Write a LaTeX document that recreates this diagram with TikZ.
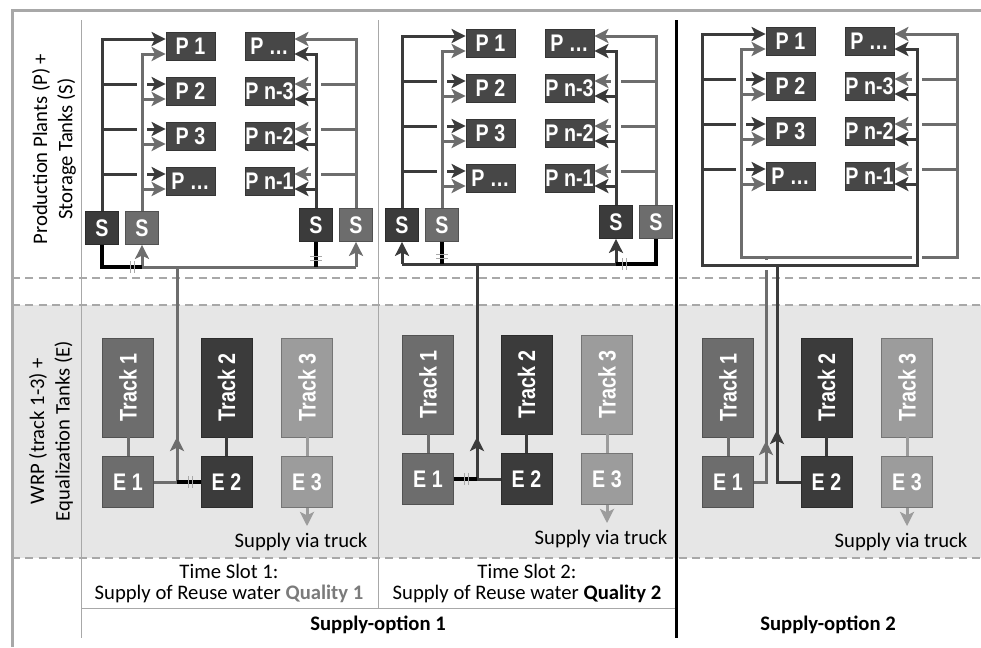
\documentclass[tikz,border=0pt]{standalone}
\usepackage{fontspec}
\setmainfont{Carlito}
\newfontfamily\boxfont[FakeStretch=0.82]{Liberation Sans}
\usetikzlibrary{arrows.meta,positioning}
\definecolor{qdark}{HTML}{3B3B3B}
\definecolor{qmid}{HTML}{6D6D6D}
\definecolor{qlight}{HTML}{9C9C9C}
\definecolor{plantgray}{HTML}{474747}
\definecolor{shadegray}{HTML}{E6E6E6}
\definecolor{rulegray}{HTML}{A8A8A8}
\definecolor{qtext}{HTML}{7B7B7B}
\tikzset{
  every picture/.style={
    x=0.75pt, y=-0.75pt,            % one unit = one pixel of the sketch
    line join=miter,
    >={Stealth[length=10.5pt,width=10.5pt,inset=2.5pt]},
  },
  tank/.style={draw=#1!75!black, fill=#1, line width=0.6pt, text=white, inner sep=0pt,
    font=\boxfont\bfseries\fontsize{18}{20}\selectfont},
  plantbox/.style={tank=plantgray, minimum width=36.75pt, minimum height=21pt},
  stank/.style={tank=#1, minimum size=24.75pt},
  trackbox/.style={tank=#1, minimum width=38.25pt, minimum height=74.25pt},
  eqbox/.style={tank=#1, minimum size=38.25pt},
  darkln/.style={draw=qdark, line width=2.25pt},
  midln/.style={draw=qmid, line width=2.25pt},
  lightln/.style={draw=qlight, line width=2.25pt},
  shutln/.style={draw=black, line width=3pt},
  inlet/.style={->, line cap=rect},
  bridge/.style={preaction={draw=white, line width=7.5pt, line cap=butt}},
  sepline/.style={draw=rulegray, line width=1.5pt, dash pattern=on 6pt off 4pt},
  colline/.style={draw=rulegray, line width=0.75pt},
  valvetick/.style={draw=rulegray, line width=0.75pt},
  lbl/.style={inner sep=0pt, font=\fontsize{15.5}{19}\selectfont},
  valve/.pic={\draw[valvetick] (-2,-6) -- (-2,6) (2,-6) -- (2,6);},
}
% production plants of one panel, with the inlet points left and right
\newcommand{\plantrows}[1]{%
  \foreach \i/\lname/\rname/\y in {1/P 1/{P \dots}/46, 2/P 2/P n-3/91, 3/P 3/P n-2/136, 4/{P \dots}/P n-1/181}{%
    \node[plantbox] (#1L\i) at (190.5,\y) {\lname};
    \node[plantbox] (#1R\i) at (269.5,\y) {\rname};
    \coordinate (#1Lu\i) at ([yshift=5.25pt]#1L\i.west);
    \coordinate (#1Ld\i) at ([yshift=-6pt]#1L\i.west);
    \coordinate (#1Ru\i) at ([yshift=5.25pt]#1R\i.east);
    \coordinate (#1Rd\i) at ([yshift=-6pt]#1R\i.east);
  }}
% storage tanks and the lines up to the plants
\newcommand{\busses}[1]{%
  \node[stank=qdark] (#1SdL) at (102,228) {S};
  \node[stank=qmid] (#1SlL) at (142,228) {S};
  \node[stank=qdark] (#1SdR) at (316,225) {S};
  \node[stank=qmid] (#1SlR) at (356,225) {S};
  \draw[darkln,->] (#1SdL.north) |- (#1Lu1);
  \foreach \i in {2,3,4} \draw[darkln,inlet] (#1SdL.north |- #1Lu\i) -- (#1Lu\i);
  \draw[midln,bridge] (#1SlL.north) -- (#1SlL.north |- #1Ld1);
  \foreach \i in {1,...,4} \draw[midln,inlet] (#1SlL.north |- #1Ld\i) -- (#1Ld\i);
  \draw[midln,->] (#1SlR.north) |- (#1Ru1);
  \foreach \i in {2,3,4} \draw[midln,inlet] (#1SlR.north |- #1Ru\i) -- (#1Ru\i);
  \draw[darkln,bridge] (#1SdR.north) -- (#1SdR.north |- #1Rd1);
  \foreach \i in {1,...,4} \draw[darkln,inlet] (#1SdR.north |- #1Rd\i) -- (#1Rd\i);
}
% tracks and equalization tanks of the WRP
\newcommand{\wrpunit}[1]{%
  \node[trackbox=qmid] (#1T1) at (128,387.5) {\rotatebox{90}{Track 1}};
  \node[trackbox=qdark] (#1T2) at (226.5,387.5) {\rotatebox{90}{Track 2}};
  \node[trackbox=qlight] (#1T3) at (307,387.5) {\rotatebox{90}{Track 3}};
  \node[eqbox=qmid] (#1E1) at (128,482) {E 1};
  \node[eqbox=qdark] (#1E2) at (226.5,482) {E 2};
  \node[eqbox=qlight] (#1E3) at (307,482) {E 3};
  \draw[midln] (#1T1) -- (#1E1);
  \draw[darkln] (#1T2) -- (#1E2);
  \draw[lightln] (#1T3) -- (#1E3);
  \coordinate (#1truck) at (307,526);
  \draw[lightln,->] (#1E3) -- (#1truck);
  \node[lbl, anchor=base] (#1via) at (301,547) {Supply via truck};
}
\begin{document}
\begin{tikzpicture}
\useasboundingbox (0,0) rectangle (981,647);

% bands and frame
\fill[shadegray] (12,305) rectangle (981,558);
\foreach \yy in {278,305,558} \draw[sepline] (12,\yy) -- (981,\yy);
\draw[colline] (81,20) -- (81,638);
\draw[colline] (378,20) -- (378,608);
\draw[colline] (81,608) -- (676,608);
\draw[line width=2.25pt] (676,20) -- (676,638);
\draw[rulegray, line width=2.25pt] (12,647) -- (12,10) -- (981,10);

\node[lbl, rotate=90, align=center] (plantlbl) at (54,149) {Production Plants (P) +\\Storage Tanks (S)};
\node[lbl, rotate=90, align=center] (wrplbl) at (51,431) {WRP (track 1-3) +\\Equalization Tanks (E)};

% WRP part of the three panels
\begin{scope}\wrpunit{a}\end{scope}
\begin{scope}[shift={(300,-3)}]\wrpunit{b}\end{scope}
\begin{scope}[shift={(600,0)}]
  \wrpunit{c}
  \coordinate (cF1) at (166,482);
  \coordinate (cF2) at (177,482);
\end{scope}

% time slot 1: quality 1 to the light tanks
\begin{scope}
  \plantrows{a}
  \busses{a}
  \coordinate (aM) at (177,267);
  \draw[midln] (aSlL.south |- aM) -- (aSlR.south |- aM);
  \draw[midln,->] (aSlL.south |- aM) -- (aSlL.south);
  \draw[midln,->] (aSlR.south |- aM) -- (aSlR.south);
  \draw[shutln] (aSdL.south) |- (aSlL.south |- aM);
  \draw[shutln] (aSdR.south) -- (aSdR.south |- aM);
  \pic at (132,267) {valve};
  \pic[rotate=90] at (316,258) {valve};
  \coordinate (aJ) at (aE1.east -| aM);
  \draw[midln] (aE1.east) -- (aJ) -- (aM);
  \draw[midln,->] (aJ) -- ++(0,-45);
  \draw[shutln] (aE2.west) -- (aJ);
  \pic at (190,482) {valve};
\end{scope}

% time slot 2: quality 2 to the dark tanks
\begin{scope}[shift={(300,-3)}]
  \plantrows{b}
  \busses{b}
  \coordinate (bM) at (177,267);
  \draw[darkln] (bSdL.south |- bM) -- (bSdR.south |- bM);
  \draw[darkln,->] (bSdL.south |- bM) -- (bSdL.south);
  \draw[darkln,->] (bSdR.south |- bM) -- (bSdR.south);
  \draw[shutln] (bSlL.south) -- (bSlL.south |- bM);
  \draw[shutln] (bSlR.south) |- (bSdR.south |- bM);
  \pic[rotate=90] at (142,259) {valve};
  \pic at (324,267) {valve};
  \coordinate (bJ) at (bE1.east -| bM);
  \draw[darkln] (bE2.west) -- (bJ) -- (bM);
  \draw[darkln,->] (bJ) -- ++(0,-42);
  \draw[shutln] (bE1.east) -- (bJ);
  \pic at (166,482) {valve};
\end{scope}

% supply-option 2: two separate loops
\begin{scope}[shift={(600,-5)}]
  \plantrows{c}
  \coordinate (cDL) at (102,270);
  \coordinate (cDR) at (317,270);
  \coordinate (cLL) at (141,262);
  \coordinate (cLR) at (357,262);
  \draw[midln,->] (cLL |- cLd4) -- (cLL) -- (cLR) |- (cRu1);
  \foreach \i in {2,3,4} \draw[midln,inlet] (cLR |- cRu\i) -- (cRu\i);
  \draw[midln] (cE1.east) -| (cF1 |- cLL);
  \draw[midln,->] (cE1.east -| cF1) -- ++(0,-41);
  \draw[darkln,bridge] (cDL |- cLu1) -- (cDL) -- (cDR) -- (cDR |- cRd1);
  \foreach \i in {1,...,4} {
    \draw[darkln,inlet] (cDL |- cLu\i) -- (cLu\i);
    \draw[darkln,inlet] (cDR |- cRd\i) -- (cRd\i);
  }
  \draw[darkln] (cE2.west) -| (cF2 |- cDL);
  \draw[darkln,->] (cE2.west -| cF2) -- ++(0,-52);
  \draw[midln,bridge] (cLL |- cLd4) -- (cLL |- cLd1);
  \foreach \i in {1,...,4} \draw[midln,inlet] (cLL |- cLd\i) -- (cLd\i);
\end{scope}

% captions
\node[lbl, anchor=base] (slot1) at (229,578) {Time Slot 1:};
\node[lbl, anchor=base] (slot1q) at (229,599) {Supply of Reuse water \textbf{\textcolor{qtext}{Quality 1}}};
\node[lbl, anchor=base] (slot2) at (527,578) {Time Slot 2:};
\node[lbl, anchor=base] (slot2q) at (527,599) {Supply of Reuse water \textbf{Quality 2}};
\node[lbl, anchor=base] (opt1) at (378,630) {\textbf{Supply-option 1}};
\node[lbl, anchor=base] (opt2) at (828,630) {\textbf{Supply-option 2}};
\end{tikzpicture}
\end{document}
